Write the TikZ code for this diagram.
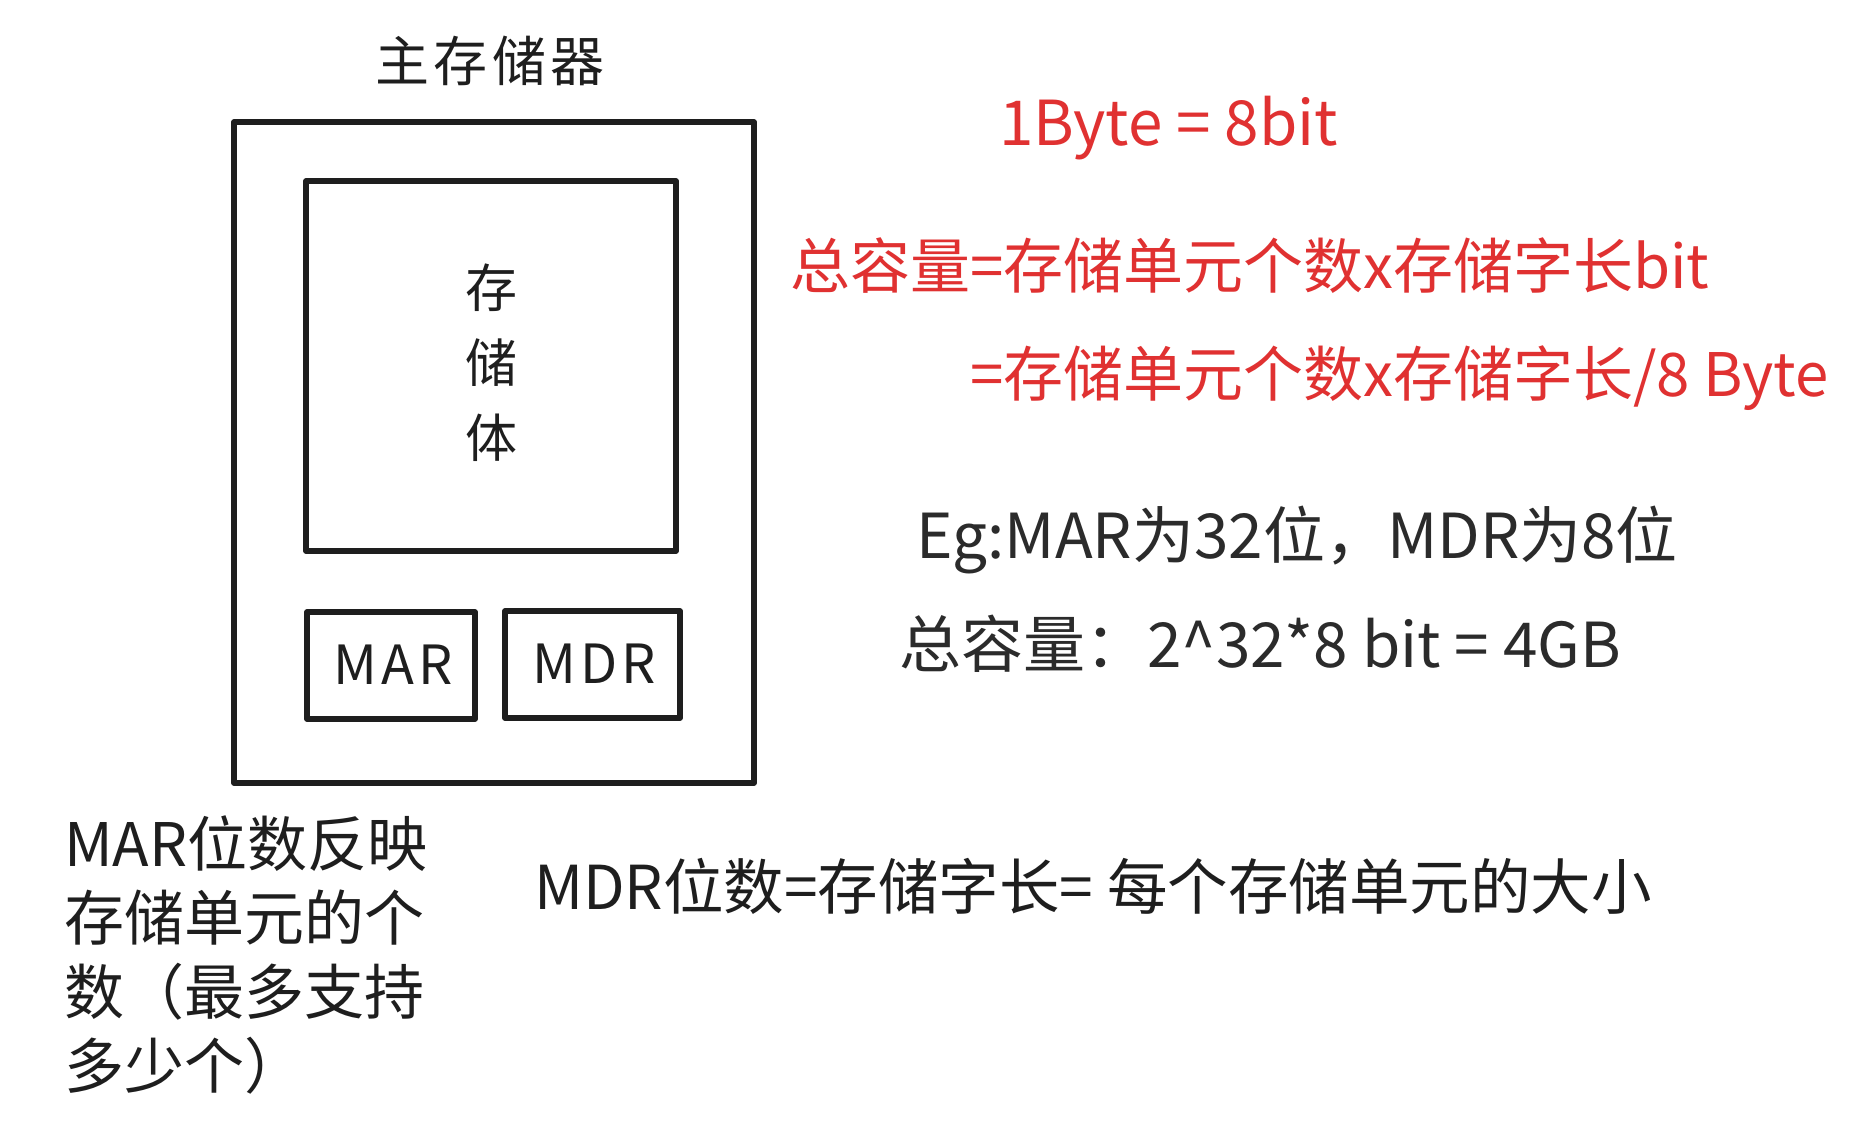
\documentclass[tikz,border=0pt]{standalone}
\usepackage{fontspec}
\setmainfont{Noto Sans CJK SC}
\newfontfamily\cjk{Noto Sans CJK SC}
\newfontfamily\cjkwide[LetterSpace=8]{Noto Sans CJK SC}
\definecolor{ink}{HTML}{1E1E1E}
\definecolor{redink}{HTML}{E03131}
\definecolor{grayink}{HTML}{2B2B2B}
\begin{document}
\begin{tikzpicture}[x=1pt,y=-1pt,
  boxline/.style={draw=ink,line width=5.5pt,line join=round},
  hand/.style={text=ink,inner sep=0pt,font=\cjk\fontsize{52}{62}\selectfont},
  redtxt/.style={text=redink,inner sep=0pt,anchor=west,font=\cjk\fontsize{60}{72}\selectfont},
  graytxt/.style={text=grayink,inner sep=0pt,anchor=west,font=\cjk\fontsize{62}{74}\selectfont}]
\useasboundingbox[fill=white] (0,0) rectangle (1854,1131);
% boxes
\draw[boxline] (234,122) rectangle (754,783);
\draw[boxline] (306,181) rectangle (676,551);
\draw[boxline] (307,612) rectangle (475,719);
\draw[boxline] (505,611) rectangle (680,718);
% texts
\node[hand,font=\cjkwide\fontsize{54}{64}\selectfont] (title) at (490,61) {主存储器};
\node[hand,align=center,font=\cjk\fontsize{52}{75}\selectfont] (body) at (491,363) {存\\储\\体};
\node[hand,font=\cjkwide\fontsize{54}{60}\selectfont] (mar) at (393,665) {MAR};
\node[hand,font=\cjkwide\fontsize{54}{60}\selectfont] (mdr) at (594,664) {MDR};
\node[redtxt,font=\cjk\fontsize{62}{72}\selectfont] (byte) at (999,128) {1Byte = 8bit};
\node[redtxt] (cap1) at (790,266) {总容量=存储单元个数x存储字长bit};
\node[redtxt] (cap2) at (970,378) {=存储单元个数x存储字长/8 Byte};
\node[graytxt] (eg) at (916,540) {Eg:MAR为32位，MDR为8位};
\node[graytxt] (tot) at (899,644) {总容量：2\^{}32*8 bit = 4GB};
\node[hand,anchor=north west,align=left,font=\cjk\fontsize{60}{74}\selectfont] (marnote) at (64,815) {MAR位数反映\\存储单元的个\\数（最多支持\\多少个）};
\node[hand,anchor=west,font=\cjk\fontsize{60.5}{70}\selectfont] (mdrnote) at (534,886) {MDR位数=存储字长= 每个存储单元的大小};
\end{tikzpicture}
\end{document}
